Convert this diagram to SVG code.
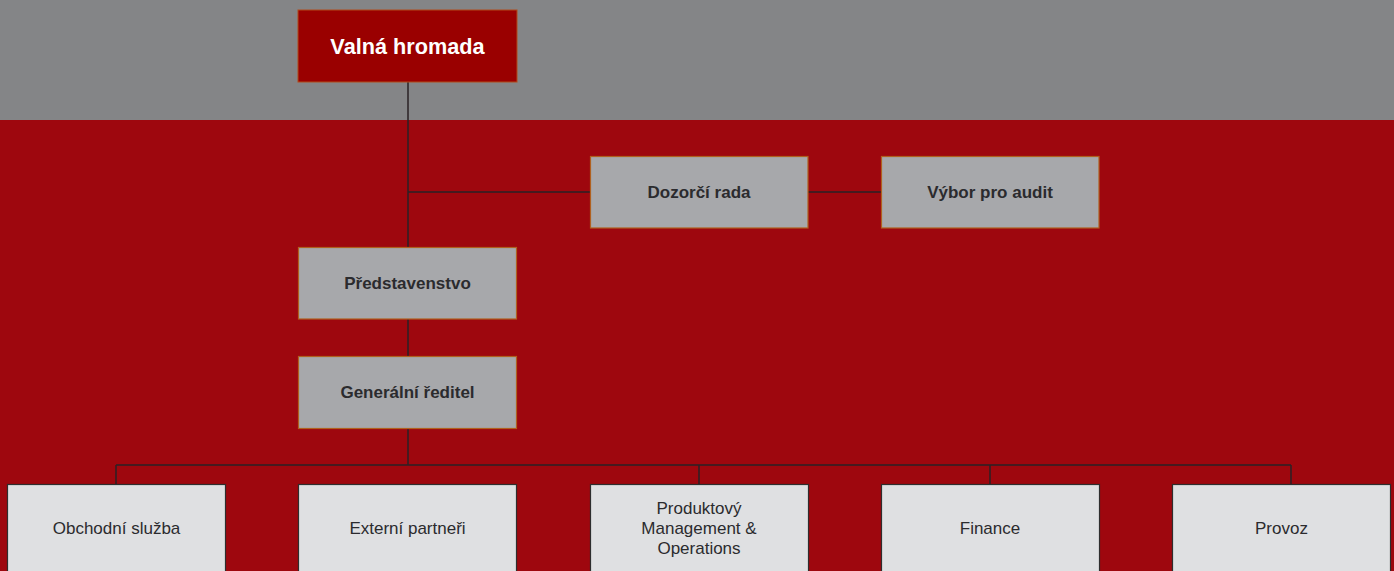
<svg xmlns="http://www.w3.org/2000/svg" width="1394" height="571" viewBox="0 0 1394 571">
<style>
.top{fill:#9a0000;stroke:#b24a1a;stroke-width:1}
.mid{fill:#a7a8ab;stroke:#b0601e;stroke-width:1.2}
.bot{fill:#dfe0e2;stroke:#2e2e2e;stroke-width:1.2}
.conn{stroke:#2a2226;stroke-width:1.5;fill:none}
text{font-family:"Liberation Sans",Arial,sans-serif;text-anchor:middle;dominant-baseline:central}
.tt{fill:#ffffff;font-size:21.7px;font-weight:bold}
.mt{fill:#2b2b2e;font-size:17px;font-weight:bold}
.bt{fill:#2b2b2e;font-size:17px}
</style>
<rect x="0" y="0" width="1394" height="120" fill="#848587"/>
<rect x="0" y="120" width="1394" height="451" fill="#9e070e"/>
<g id="connectors">
<path class="conn" d="M408 82V247M408 319V356M408 428V465M408 192H590M808 192H881M116 465H1291M116 465V484M699 465V484M990 465V484M1291 465V484"/>
</g>
<g id="valna"><rect class="top" x="298" y="10" width="219" height="72"/><text class="tt" x="407.5" y="46">Valná hromada</text></g>
<g id="dozorci"><rect class="mid" x="590.5" y="156.5" width="217.5" height="71.5"/><text class="mt" x="699" y="192">Dozorčí rada</text></g>
<g id="vybor"><rect class="mid" x="881.5" y="156.5" width="217.5" height="71.5"/><text class="mt" x="990" y="192">Výbor pro audit</text></g>
<g id="predstavenstvo"><rect class="mid" x="298.5" y="247.5" width="218" height="71.5"/><text class="mt" x="407.5" y="283">Představenstvo</text></g>
<g id="reditel"><rect class="mid" x="298.5" y="356.5" width="218" height="72"/><text class="mt" x="407.5" y="392">Generální ředitel</text></g>
<g id="obchodni"><rect class="bot" x="7.5" y="484.5" width="218" height="100"/><text class="bt" x="116.5" y="528">Obchodní služba</text></g>
<g id="externi"><rect class="bot" x="298.5" y="484.5" width="218" height="100"/><text class="bt" x="407.5" y="528">Externí partneři</text></g>
<g id="produktovy"><rect class="bot" x="590.5" y="484.5" width="218" height="100"/><text class="bt" x="699" y="508">Produktový</text><text class="bt" x="699" y="528">Management &amp;</text><text class="bt" x="699" y="548">Operations</text></g>
<g id="finance"><rect class="bot" x="881.5" y="484.5" width="218" height="100"/><text class="bt" x="990" y="528">Finance</text></g>
<g id="provoz"><rect class="bot" x="1172.5" y="484.5" width="218" height="100"/><text class="bt" x="1281.5" y="528">Provoz</text></g>
</svg>
